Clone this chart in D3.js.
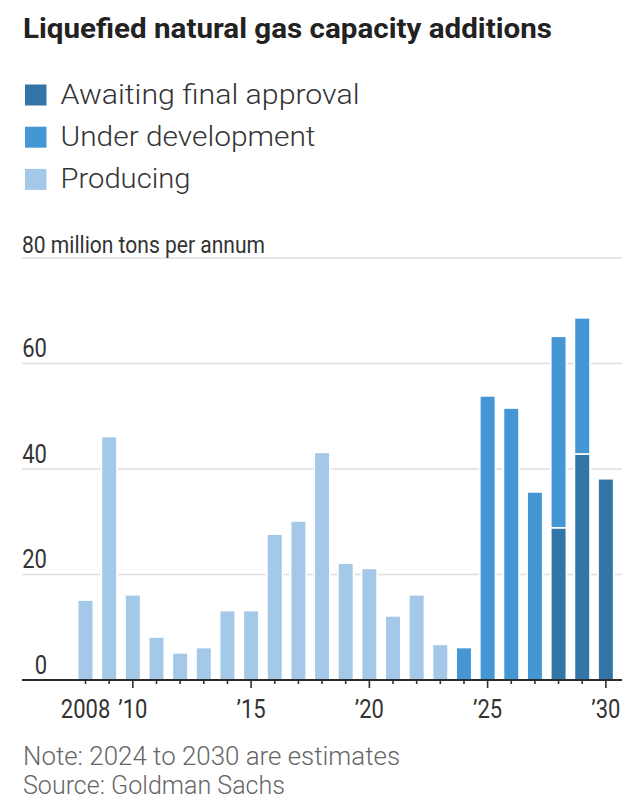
<!DOCTYPE html>
<html>
<head>
<meta charset="utf-8">
<script src="https://cdn.jsdelivr.net/npm/d3@7"></script>
<style>
  html, body { margin: 0; padding: 0; background: #fff; }
  svg { display: block; }
</style>
</head>
<body>
<div id="chart"></div>
<script>
// ---- Data ----
const years = [2008, 2009, 2010, 2011, 2012, 2013, 2014, 2015, 2016, 2017, 2018, 2019,
               2020, 2021, 2022, 2023, 2024, 2025, 2026, 2027, 2028, 2029, 2030];
const producing        = [15, 46, 16, 8, 5, 6, 13, 13, 27.5, 30, 43, 22, 21, 12, 16, 6.6, 0, 0, 0, 0, 0, 0, 0];
const awaitingApproval = [0, 0, 0, 0, 0, 0, 0, 0, 0, 0, 0, 0, 0, 0, 0, 0, 0, 0, 0, 0, 29, 43, 38];
const underDevelopment = [0, 0, 0, 0, 0, 0, 0, 0, 0, 0, 0, 0, 0, 0, 0, 0, 6, 53.7, 51.4, 35.5, 36, 25.5, 0];
const seriesKeys   = ["producing", "awaitingApproval", "underDevelopment"];
const legendLabels = ["Awaiting final approval", "Under development", "Producing"];
const legendKeys   = ["awaitingApproval", "underDevelopment", "producing"];
const yTicks = [0, 20, 40, 60, 80];
const xTickLabels = [2008, 2010, 2015, 2020, 2025, 2030];
const titleText = "Liquefied natural gas capacity additions";
const yUnitText = " million tons per annum";
const noteText = "Note: 2024 to 2030 are estimates";
const sourceText = "Source: Goldman Sachs";

// ---- Styles ----
const colors = {
  producing: "#a4c9e8",
  underDevelopment: "#4596d5",
  awaitingApproval: "#3475a8"
};
const FONT = "Roboto, 'Noto Sans', 'DejaVu Sans', sans-serif";

const W = 640, H = 812;
const svg = d3.select("#chart").append("svg")
  .attr("width", W).attr("height", H)
  .style("font-family", FONT);

function squeeze(sel, k) {
  sel.each(function() {
    const len = this.getComputedTextLength();
    d3.select(this).attr("textLength", len * k).attr("lengthAdjust", "spacingAndGlyphs");
  });
}
function fitTo(sel, w) {
  sel.attr("textLength", w).attr("lengthAdjust", "spacingAndGlyphs");
}

// ---- Title ----
svg.append("text")
  .attr("x", 23).attr("y", 38)
  .attr("font-size", 28).attr("font-weight", 700).attr("fill", "#222")
  .text(titleText)
  .call(fitTo, 529);

// ---- Legend ----
const legendWidths = [299, 255, 130];
const lg = svg.append("g");
legendKeys.forEach((k, i) => {
  const yb = 103.5 + i * 42.2;
  lg.append("rect")
    .attr("x", 25).attr("y", yb - 19).attr("width", 21.5).attr("height", 21)
    .attr("fill", colors[k]);
  lg.append("text")
    .attr("x", 60.5).attr("y", yb)
    .attr("font-size", 28).attr("font-weight", 300).attr("fill", "#333")
    .text(legendLabels[i])
    .call(fitTo, legendWidths[i]);
});

// ---- Scales ----
const x = d3.scaleBand().domain(years).range([73.7, 617.7]).paddingInner(0.41).paddingOuter(0.205);
const y = d3.scaleLinear().domain([0, 80]).range([680, 258]);
const gridX0 = 22, gridX1 = 622;

// ---- Gridlines ----
svg.append("g").selectAll("line").data(yTicks.filter(d => d > 0)).join("line")
  .attr("x1", gridX0).attr("x2", gridX1)
  .attr("y1", d => y(d)).attr("y2", d => y(d))
  .attr("stroke", "#dedede").attr("stroke-width", 1.6);

// ---- Y labels ----
const yl = svg.append("g");
yTicks.forEach(t => {
  if (t === 80) {
    yl.append("text")
      .attr("x", 22).attr("y", y(t) - 5)
      .attr("font-size", 24).attr("fill", "#333")
      .text(t + yUnitText)
      .call(fitTo, 243);
  } else {
    yl.append("text")
      .attr("x", 47).attr("y", y(t) - 6.5)
      .attr("text-anchor", "end")
      .attr("font-size", 25).attr("fill", "#333")
      .text(t)
      .call(squeeze, 0.88);
  }
});

// ---- Bars ----
const table = years.map((yr, i) => ({
  year: yr,
  producing: producing[i],
  awaitingApproval: awaitingApproval[i],
  underDevelopment: underDevelopment[i]
}));
const stacked = d3.stack().keys(seriesKeys)(table);
svg.append("g").selectAll("g").data(stacked).join("g")
  .attr("fill", d => colors[d.key])
  .selectAll("rect").data(d => d.filter(p => p[1] - p[0] > 0)).join("rect")
  .attr("x", d => x(d.data.year))
  .attr("width", x.bandwidth())
  .attr("y", d => y(d[1]))
  .attr("height", d => y(d[0]) - y(d[1]))
  .attr("stroke", "#fff").attr("stroke-width", 3.5)
  .attr("paint-order", "stroke");

// ---- X axis ----
const majors = new Set([2010, 2015, 2020, 2025, 2030]);
const labelSet = new Set(xTickLabels);
const xAxis = d3.axisBottom(x).tickValues(years).tickSize(4).tickSizeOuter(0)
  .tickFormat(d => labelSet.has(d) ? (d === 2008 ? String(d) : "\u2019" + String(d).slice(2)) : "");
const ax = svg.append("g").attr("transform", "translate(0,680)").call(xAxis);
ax.select(".domain").remove();
ax.selectAll(".tick line")
  .attr("stroke", "#333").attr("stroke-width", 1.6)
  .attr("y2", d => majors.has(d) ? 8 : 4);
ax.selectAll(".tick text")
  .attr("y", 38).attr("dy", 0)
  .attr("font-size", 25).attr("font-family", FONT).attr("fill", "#333")
  .call(squeeze, 0.88);
svg.append("line")
  .attr("x1", gridX0).attr("x2", gridX1)
  .attr("y1", y(0)).attr("y2", y(0))
  .attr("stroke", "#2b2b2b").attr("stroke-width", 2);

// ---- Notes ----
svg.append("text")
  .attr("x", 23).attr("y", 765)
  .attr("font-size", 25).attr("font-weight", 300).attr("fill", "#666")
  .text(noteText).call(fitTo, 377);
svg.append("text")
  .attr("x", 23).attr("y", 793.5)
  .attr("font-size", 25).attr("font-weight", 300).attr("fill", "#666")
  .text(sourceText).call(fitTo, 262);
</script>
</body>
</html>
